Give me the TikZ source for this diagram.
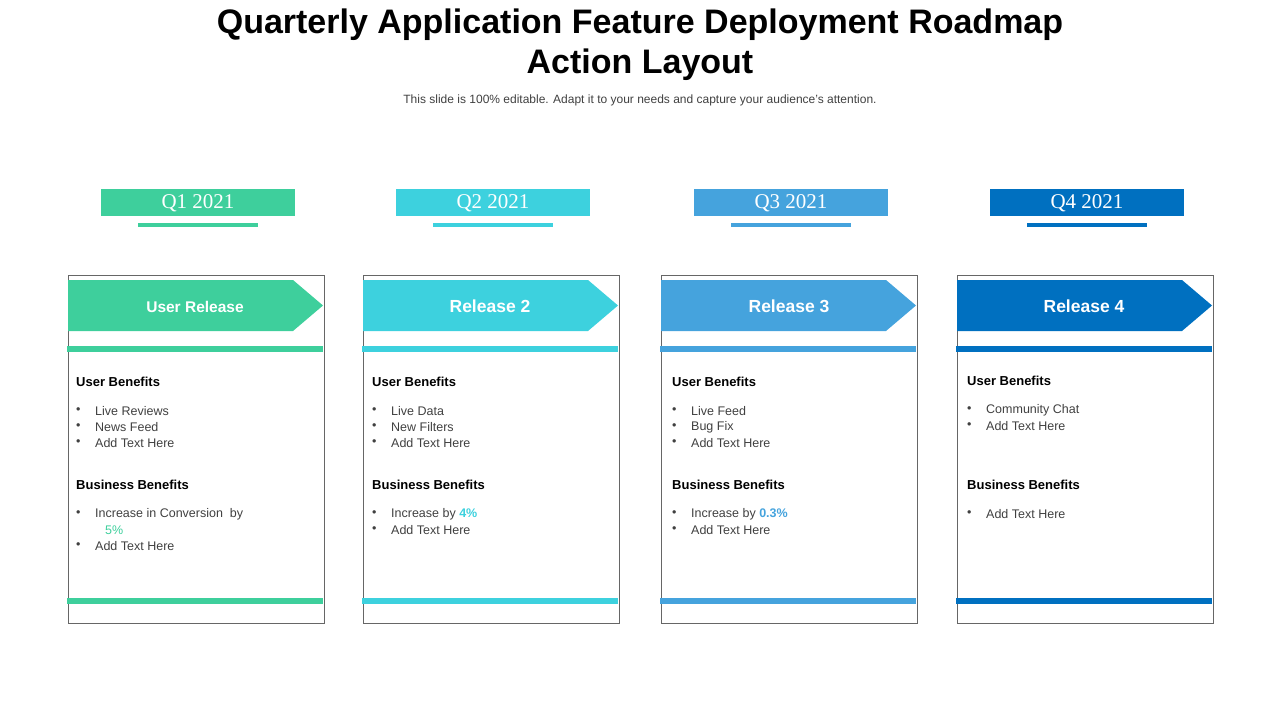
\documentclass[tikz,border=0pt]{standalone}
\usepackage{fontspec}
\setmainfont{Liberation Sans}
\newfontfamily\qfont{Liberation Serif}
\definecolor{cA}{HTML}{3ECF9C}
\definecolor{cB}{HTML}{3DD1DE}
\definecolor{cC}{HTML}{45A3DD}
\definecolor{cD}{HTML}{0070C0}
\definecolor{txt}{HTML}{404040}
\begin{document}
\begin{tikzpicture}[x=1pt,y=-1pt,
  head/.style={font=\fontsize{13}{15}\selectfont\bfseries,anchor=west,inner sep=0},
  itm/.style={font=\fontsize{12.5}{15}\selectfont,text=txt,anchor=west,inner sep=0},
  qlab/.style={font=\qfont\fontsize{21}{24}\selectfont,text=white,inner sep=0}]
\useasboundingbox (0,0) rectangle (1280,720);
\node[font=\fontsize{34}{40}\selectfont\bfseries,align=center] (title) at (640,45) {Quarterly Application Feature Deployment Roadmap\\Action Layout};
\node[font=\fontsize{12}{14}\selectfont,text=txt] (sub) at (640,100) {This slide is 100\% editable. Adapt it to your needs and capture your audience's attention.};
\foreach \x/\c/\q/\r/\n in {68/cA/Q1 2021/User Release/1,363/cB/Q2 2021/Release 2/2,661/cC/Q3 2021/Release 3/3,957/cD/Q4 2021/Release 4/4}{
  \fill[\c] (\x+33,189) rectangle (\x+227,216);
  \node[qlab] (q\n) at (\x+130,203) {\q};
  \fill[\c] (\x+70,223) rectangle (\x+190,226.5);
  \draw[gray!80!black,line width=0.7] (\x,275) rectangle (\x+256,623);
  \fill[\c] (\x,280) -- (\x+225,280) -- (\x+255,305.5) -- (\x+225,331) -- (\x,331) -- cycle;
  \fill[\c] (\x-1,346) rectangle (\x+255,352);
  \fill[\c] (\x-1,598) rectangle (\x+255,604);
}
\node[font=\fontsize{15.5}{18}\selectfont\bfseries,text=white] (r1) at (195,307) {User Release};
\node[font=\fontsize{17.5}{20}\selectfont\bfseries,text=white] (r2) at (490,306) {Release 2};
\node[font=\fontsize{17.5}{20}\selectfont\bfseries,text=white] (r3) at (789,306) {Release 3};
\node[font=\fontsize{17.5}{20}\selectfont\bfseries,text=white] (r4) at (1084,306) {Release 4};
% card 1
\node[head] (h11) at (76,382) {User Benefits};
\node[head] (h12) at (76,485) {Business Benefits};
\foreach \y/\t [count=\i] in {411/Live Reviews,427/News Feed,443/Add Text Here,514/Increase in Conversion\ \ by,546/Add Text Here}{
  \node[itm] (a\i) at (76,\y) {\textbullet}; \node[itm] (at\i) at (95,\y) {\t};}
\node[itm,text=cA] (a5p) at (105,530) {5\%};
% card 2
\node[head] (h21) at (372,382) {User Benefits};
\node[head] (h22) at (372,485) {Business Benefits};
\foreach \y/\t [count=\i] in {411/Live Data,427/New Filters,443/Add Text Here,514/{Increase by \textcolor{cB}{\bfseries 4\%}},530/Add Text Here}{
  \node[itm] (b\i) at (372,\y) {\textbullet}; \node[itm] (bt\i) at (391,\y) {\t};}
% card 3
\node[head] (h31) at (672,382) {User Benefits};
\node[head] (h32) at (672,485) {Business Benefits};
\foreach \y/\t [count=\i] in {411/Live Feed,427/Bug Fix,443/Add Text Here,514/{Increase by \textcolor{cC}{\bfseries 0.3\%}},530/Add Text Here}{
  \node[itm] (c\i) at (672,\y) {\textbullet}; \node[itm] (ct\i) at (691,\y) {\t};}
% card 4
\node[head] (h41) at (967,381) {User Benefits};
\node[head] (h42) at (967,485) {Business Benefits};
\foreach \y/\t [count=\i] in {410/Community Chat,426/Add Text Here,514/Add Text Here}{
  \node[itm] (d\i) at (967,\y) {\textbullet}; \node[itm] (dt\i) at (986,\y) {\t};}
\end{tikzpicture}
\end{document}
